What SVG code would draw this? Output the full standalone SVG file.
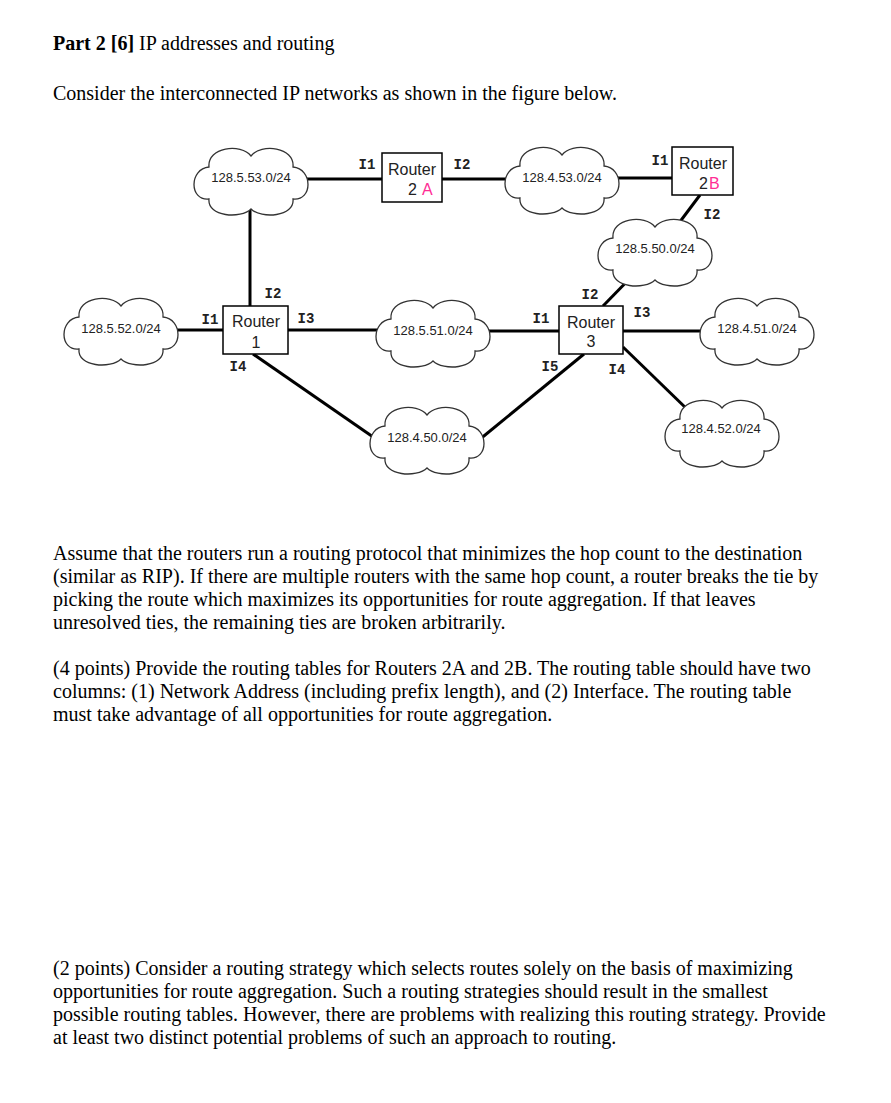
<svg xmlns="http://www.w3.org/2000/svg" width="891" height="1103" viewBox="0 0 891 1103">
<style>
.cl{fill:#fff;stroke:#333;stroke-width:1.3}
.box{fill:#fff;stroke:#000;stroke-width:1.5}
.con line{stroke:#000;stroke-width:3}
.net{font-family:"Liberation Sans",Arial,sans-serif;font-size:13px;text-anchor:middle;fill:#222}
.rt{font-family:"Liberation Sans",Arial,sans-serif;font-size:16px;text-anchor:middle;fill:#222}
.rn{font-family:"Liberation Sans",Arial,sans-serif;font-size:16px;fill:#222}
.pink{fill:#ff2d95}
.if{font-family:"Liberation Mono","Courier New",monospace;font-weight:bold;font-size:14px;text-anchor:middle;fill:#222}
.body{font-family:"Liberation Serif","Times New Roman",serif;font-size:20px;fill:#000}
</style>
<defs>
<path id="cloud" class="cl" d="M -42,-14 C -44,-34 -10,-38 0,-25 C 10,-38 44,-34 42,-14 C 62,-12 62,20 42,18 C 44,36 10,38 0,28 C -10,38 -44,36 -42,18 C -62,20 -62,-12 -42,-14 Z"/>
</defs>
<rect width="891" height="1103" fill="#fff"/>

<g id="text">
<text class="body" x="53" y="50"><tspan font-weight="bold">Part 2 [6]</tspan> IP addresses and routing</text>
<text class="body" x="53" y="100">Consider the interconnected IP networks as shown in the figure below.</text>
<text class="body" x="53" y="560">Assume that the routers run a routing protocol that minimizes the hop count to the destination</text>
<text class="body" x="53" y="583">(similar as RIP). If there are multiple routers with the same hop count, a router breaks the tie by</text>
<text class="body" x="53" y="606">picking the route which maximizes its opportunities for route aggregation. If that leaves</text>
<text class="body" x="53" y="629">unresolved ties, the remaining ties are broken arbitrarily.</text>
<text class="body" x="53" y="675">(4 points) Provide the routing tables for Routers 2A and 2B. The routing table should have two</text>
<text class="body" x="53" y="698">columns: (1) Network Address (including prefix length), and (2) Interface. The routing table</text>
<text class="body" x="53" y="721">must take advantage of all opportunities for route aggregation.</text>
<text class="body" x="53" y="975">(2 points) Consider a routing strategy which selects routes solely on the basis of maximizing</text>
<text class="body" x="53" y="998">opportunities for route aggregation. Such a routing strategies should result in the smallest</text>
<text class="body" x="53" y="1021">possible routing tables. However, there are problems with realizing this routing strategy. Provide</text>
<text class="body" x="53" y="1044">at least two distinct potential problems of such an approach to routing.</text>
</g>

<g id="connectors" class="con">
<line x1="300" y1="179" x2="382" y2="179"/>
<line x1="442" y1="179" x2="512" y2="179"/>
<line x1="612" y1="178" x2="672" y2="178"/>
<line x1="700" y1="195" x2="679" y2="223"/>
<line x1="250" y1="205" x2="250" y2="306"/>
<line x1="170" y1="330" x2="223" y2="330"/>
<line x1="288" y1="330" x2="382" y2="330"/>
<line x1="484" y1="331" x2="559" y2="331"/>
<line x1="623" y1="331" x2="705" y2="331"/>
<line x1="603" y1="306" x2="641" y2="267"/>
<line x1="623" y1="347" x2="690" y2="412"/>
<line x1="584" y1="354" x2="479" y2="440"/>
<line x1="253" y1="354" x2="376" y2="439"/>
</g>

<g id="net-128-5-53"><use href="#cloud" x="251" y="181"/><text class="net" x="251" y="182">128.5.53.0/24</text></g>
<g id="net-128-4-53"><use href="#cloud" x="562" y="180"/><text class="net" x="562" y="182">128.4.53.0/24</text></g>
<g id="net-128-5-50"><use href="#cloud" x="655" y="252"/><text class="net" x="655" y="253">128.5.50.0/24</text></g>
<g id="net-128-5-52"><use href="#cloud" x="121" y="331"/><text class="net" x="121" y="333">128.5.52.0/24</text></g>
<g id="net-128-5-51"><use href="#cloud" x="433" y="333"/><text class="net" x="433" y="335">128.5.51.0/24</text></g>
<g id="net-128-4-51"><use href="#cloud" x="757" y="331"/><text class="net" x="757" y="333">128.4.51.0/24</text></g>
<g id="net-128-4-50"><use href="#cloud" x="427" y="440"/><text class="net" x="427" y="442">128.4.50.0/24</text></g>
<g id="net-128-4-52"><use href="#cloud" x="722" y="433"/><text class="net" x="721" y="433">128.4.52.0/24</text></g>

<g id="router-2A">
<rect class="box" x="382" y="153" width="60" height="49"/>
<text class="rt" x="412" y="175">Router</text>
<text class="rn" x="408" y="195">2<tspan class="pink" x="422">A</tspan></text>
<text class="if" x="367" y="169">I1</text>
<text class="if" x="462" y="169">I2</text>
</g>
<g id="router-2B">
<rect class="box" x="672" y="147" width="61" height="48"/>
<text class="rt" x="703" y="169">Router</text>
<text class="rn" x="699" y="189">2<tspan class="pink" x="709">B</tspan></text>
<text class="if" x="660" y="165">I1</text>
<text class="if" x="712" y="219">I2</text>
</g>
<g id="router-1">
<rect class="box" x="223" y="306" width="65" height="48"/>
<text class="rt" x="256" y="327">Router</text>
<text class="rt" x="256" y="348">1</text>
<text class="if" x="273" y="298">I2</text>
<text class="if" x="210" y="324">I1</text>
<text class="if" x="306" y="323">I3</text>
<text class="if" x="238" y="371">I4</text>
</g>
<g id="router-3">
<rect class="box" x="559" y="306" width="64" height="48"/>
<text class="rt" x="591" y="328">Router</text>
<text class="rt" x="591" y="347">3</text>
<text class="if" x="590" y="299">I2</text>
<text class="if" x="541" y="323">I1</text>
<text class="if" x="642" y="317">I3</text>
<text class="if" x="550" y="371">I5</text>
<text class="if" x="617" y="374">I4</text>
</g>
</svg>
